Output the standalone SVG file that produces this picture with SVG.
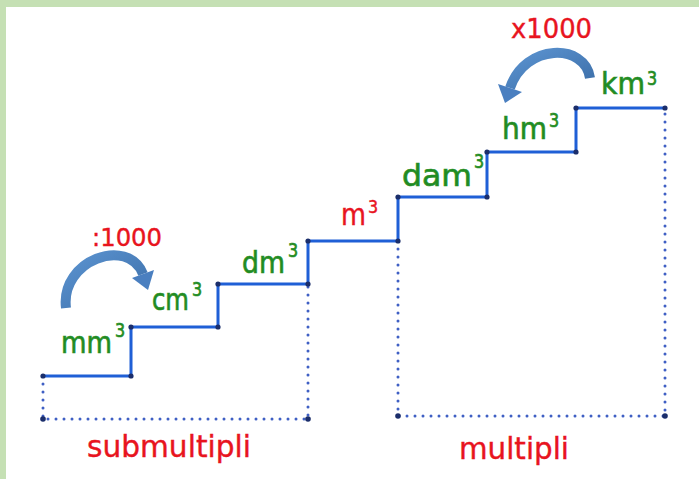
<svg xmlns="http://www.w3.org/2000/svg" width="699" height="479" viewBox="0 0 699 479">
<defs>
<style>
.stair{fill:none;stroke:#1f5fd6;stroke-width:3;stroke-linejoin:miter}
.dot{fill:#1b2e6b}
.dotted{fill:none;stroke:#3f5fc4;stroke-width:3;stroke-linecap:round;stroke-dasharray:0 8}
.g{font-family:"DejaVu Sans","Liberation Sans",sans-serif;fill:#1f8c22;stroke:#2a8f28;stroke-width:0.6;font-size:26px}
.sup{font-size:16px}
.r{font-family:"DejaVu Sans","Liberation Sans",sans-serif;fill:#e8141e;stroke:#e8141e;stroke-width:0.4}
.arrow{fill:none;stroke:url(#ag);stroke-width:10}
.head{fill:#4a7fc0}
</style>
<linearGradient id="ag" x1="0" y1="0" x2="1" y2="1">
<stop offset="0" stop-color="#5b93d0"/>
<stop offset="1" stop-color="#3c6ea8"/>
</linearGradient>
</defs>
<rect x="0" y="0" width="699" height="479" fill="#ffffff"/>
<rect x="0" y="0" width="699" height="7" fill="#c5e0b4"/>
<rect x="0" y="0" width="6" height="479" fill="#c5e0b4"/>

<g id="connectors">
<path class="dotted" d="M43 376 V419 H308 V284"/>
<path class="dotted" d="M398 241 V416 H665 V108"/>
<path class="stair" d="M43 376 H131 V327 H218 V284 H308 V241 H398 V197 H487 V152 H576 V108 H665"/>
<g class="dot">
<circle cx="43" cy="376" r="2.6"/><circle cx="131" cy="376" r="2.6"/>
<circle cx="131" cy="327" r="2.6"/><circle cx="218" cy="327" r="2.6"/>
<circle cx="218" cy="284" r="2.6"/><circle cx="308" cy="284" r="2.6"/>
<circle cx="308" cy="241" r="2.6"/><circle cx="398" cy="241" r="2.6"/>
<circle cx="398" cy="197" r="2.6"/><circle cx="487" cy="197" r="2.6"/>
<circle cx="487" cy="152" r="2.6"/><circle cx="576" cy="152" r="2.6"/>
<circle cx="576" cy="108" r="2.6"/><circle cx="665" cy="108" r="2.6"/>
<circle cx="43" cy="419" r="2.8"/><circle cx="308" cy="419" r="2.8"/>
<circle cx="398" cy="416" r="2.8"/><circle cx="665" cy="416" r="2.8"/>
</g>
</g>

<g id="arrow-div">
<path class="arrow" d="M66 308 C60 260 128 236 143 274"/>
<polygon class="head" points="154,270 132,278 148,290"/>
</g>
<g id="arrow-mul">
<path class="arrow" d="M590 78 C585 43 525 43 510 88"/>
<polygon class="head" points="522,92 498,84 505,103"/>
</g>

<g id="mm3"><text class="g" transform="translate(61,353) scale(1,1.18)"><tspan x="0" y="0" textLength="51" lengthAdjust="spacingAndGlyphs">mm</tspan><tspan class="sup" x="54" y="-13.6">3</tspan></text></g>
<g id="cm3"><text class="g" transform="translate(152,310) scale(1,1.18)"><tspan x="0" y="0" textLength="37" lengthAdjust="spacingAndGlyphs">cm</tspan><tspan class="sup" x="40" y="-11.9">3</tspan></text></g>
<g id="dm3"><text class="g" transform="translate(242,273) scale(1,1.18)"><tspan x="0" y="0" textLength="43" lengthAdjust="spacingAndGlyphs">dm</tspan><tspan class="sup" x="46" y="-13.6">3</tspan></text></g>
<g id="m3"><text class="r" font-size="26" transform="translate(341,225) scale(1,1.15)"><tspan x="0" y="0" textLength="25" lengthAdjust="spacingAndGlyphs">m</tspan><tspan font-size="16" x="27" y="-10.4">3</tspan></text></g>
<g id="dam3"><text class="g" transform="translate(402,186) scale(1,1.18)"><tspan x="0" y="0" textLength="70" lengthAdjust="spacingAndGlyphs">dam</tspan><tspan class="sup" x="72" y="-15.3">3</tspan></text></g>
<g id="hm3"><text class="g" transform="translate(502,139) scale(1,1.18)"><tspan x="0" y="0" textLength="45" lengthAdjust="spacingAndGlyphs">hm</tspan><tspan class="sup" x="47" y="-10.2">3</tspan></text></g>
<g id="km3"><text class="g" transform="translate(601,94) scale(1,1.18)"><tspan x="0" y="0" textLength="44" lengthAdjust="spacingAndGlyphs">km</tspan><tspan class="sup" x="46" y="-7.6">3</tspan></text></g>

<g id="div-label"><text class="r" font-size="25" x="92" y="246" textLength="70" lengthAdjust="spacingAndGlyphs">:1000</text></g>
<g id="mul-label"><text class="r" font-size="26" x="511" y="38" textLength="81" lengthAdjust="spacingAndGlyphs">x1000</text></g>
<g id="submultipli"><text class="r" font-size="30" x="87" y="457" textLength="164" lengthAdjust="spacingAndGlyphs">submultipli</text></g>
<g id="multipli"><text class="r" font-size="30" x="459" y="459" textLength="110" lengthAdjust="spacingAndGlyphs">multipli</text></g>
</svg>
